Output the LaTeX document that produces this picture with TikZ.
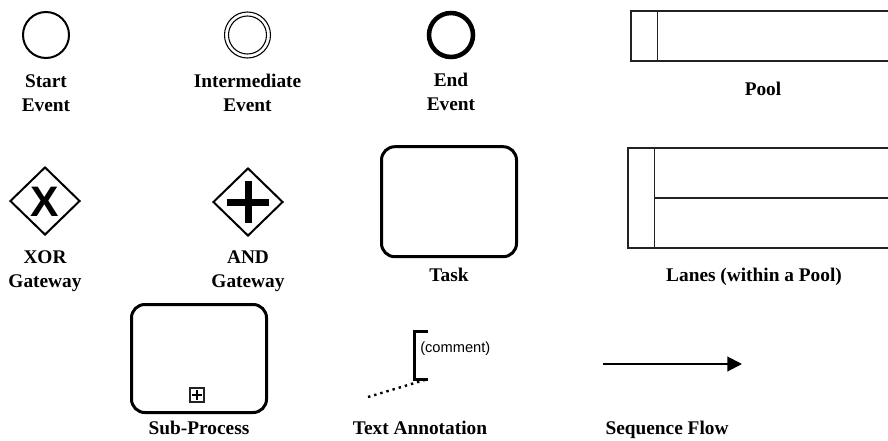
\documentclass[tikz,border=0pt]{standalone}
\usepackage{fontspec}
\setmainfont{Liberation Serif}
\newfontfamily\sansfont{Liberation Sans}
\usepackage{tikz}
\usepackage{xcolor}
\usetikzlibrary{shapes.geometric,arrows.meta}
\definecolor{linegray}{HTML}{222222}
\def\px{0.75pt}

\begin{document}
\begin{tikzpicture}[x=0.75pt, y=-0.75pt,
    caption/.style={font=\bfseries\fontsize{14.5}{18}\selectfont, align=center, anchor=north, inner sep=0pt},
    gateway/.style={shape=diamond, draw, line width=1.5pt, inner sep=0pt, minimum width=70*\px, minimum height=68*\px},
    activity/.style={draw, rounded corners=10pt, line width=2.25pt, minimum width=135*\px, minimum height=108*\px}]
        \useasboundingbox (0,0) rectangle (888,440);
        % Events
        \node[shape=circle, draw, line width=1.5pt, minimum size=46*\px] (S) at (46,35) {};
        \node[caption] (SL) at (46,74) {Start\\Event};
        \node[shape=circle, draw, line width=0.8pt, minimum size=46*\px] (I) at (247.5,35) {};
        \node[shape=circle, draw, line width=0.8pt, minimum size=38*\px] (Iin) at (247.5,35) {};
        \node[caption] (IL) at (247.5,74) {Intermediate\\Event};
        \node[shape=circle, draw, line width=3.4pt, minimum size=44*\px] (E) at (451,35) {};
        \node[caption] (EL) at (451,73) {End\\Event};
        % Pool
        \node[draw=linegray, line width=1.1pt, minimum width=270*\px, minimum height=50*\px] (P) at (766,36) {};
        \draw[linegray, line width=1.1pt] (P.north west) ++(27,0) -- ++(0,50);
        \node[caption] (PL) at (763,82) {Pool};
        % Gateways
        \node[gateway] (X) at (45,201) {};
        \node[font=\sansfont\bfseries\fontsize{32}{32}\selectfont, inner sep=0pt] (Xs) at (45,202) {X};
        \node[caption] (XL) at (45,250) {XOR\\Gateway};
        \node[gateway] (A) at (248,202) {};
        \draw[line width=5.25pt] (A.center) ++(0,-21) -- ++(0,42);
        \draw[line width=5.25pt] (A.center) ++(-21,0) -- ++(42,0);
        \node[caption] (AL) at (248,250) {AND\\Gateway};
        % Task
        \node[activity, minimum height=110*\px] (T) at (449,201.7) {};
        \node[caption] (TL) at (449,268) {Task};
        % Lanes
        \node[draw=linegray, line width=1.1pt, minimum width=272*\px, minimum height=100*\px] (L) at (764,198) {};
        \draw[linegray, line width=1.1pt] (L.north west) ++(27,0) -- ++(0,100);
        \draw[linegray, line width=1.1pt] (655,198) -- (L.east);
        \node[caption] (LL) at (754,268) {Lanes (within a Pool)};
        % Sub-process
        \node[activity] (SP) at (199,358.5) {};
        \node[draw=linegray, line width=1pt, minimum size=14*\px, inner sep=0pt] (SPbox) at (197,395) {};
        \draw[line width=1.5pt] (SPbox.center) ++(0,-5) -- ++(0,10);
        \draw[line width=1.5pt] (SPbox.center) ++(-5,0) -- ++(10,0);
        \node[caption] (SPL) at (199,421) {Sub-Process};
        % Text annotation
        \coordinate (Nt) at (428,331);
        \coordinate (Nb) at (428,379);
        \draw[line width=2.25pt] (Nt) -- (414,331) -- (414,379) -- (Nb);
        \node[font=\sansfont\fontsize{11}{12}\selectfont, anchor=west, inner sep=0pt] (C) at (420,349) {(comment)};
        \coordinate (Nf) at (368,397);
        \draw[line width=1.8pt, dash pattern=on 1.8pt off 3pt] (Nf) -- (Nb);
        \node[caption] (NL) at (420,421) {Text Annotation};
        % Sequence flow
        \coordinate (F1) at (603,364);
        \coordinate (F2) at (742,364);
        \path[-{Triangle[length=11pt,width=11pt]}, line width=1.5pt] (F1) edge (F2);
        \node[caption] (FL) at (667,421) {Sequence Flow};
    \end{tikzpicture}
\end{document}
